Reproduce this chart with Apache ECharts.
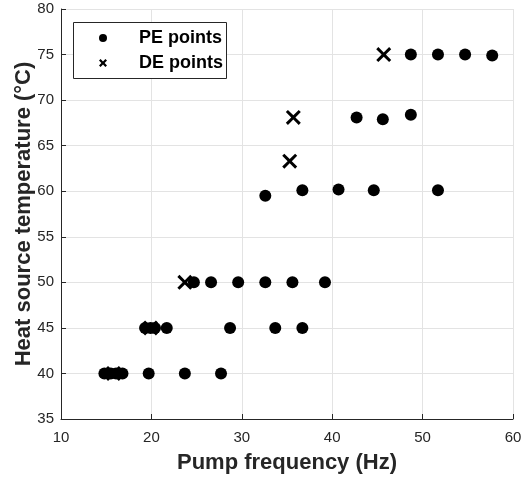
<!DOCTYPE html>
<html>
<head>
<meta charset="utf-8">
<script src="https://cdn.jsdelivr.net/npm/echarts@6/dist/echarts.min.js"></script>
<style>
html,body{margin:0;padding:0;background:#fff;}
#chart{width:531px;height:481px;}
</style>
</head>
<body>
<div id="chart"></div>
<script>
// Data
var peX = [14.8, 15.5, 16.1, 16.8, 19.7, 23.7, 27.7,
           19.3, 19.9, 20.4, 21.7, 28.7, 33.7, 36.7,
           24.7, 26.6, 29.6, 32.6, 35.6, 39.2,
           32.6, 36.7, 40.7, 44.6, 51.7,
           42.7, 45.6, 48.7,
           48.7, 51.7, 54.7, 57.7];
var peY = [40, 40, 40, 40, 40, 40, 40,
           45, 45, 45, 45, 45, 45, 45,
           50, 50, 50, 50, 50, 50,
           59.5, 60.1, 60.2, 60.1, 60.1,
           68.1, 67.9, 68.4,
           75.0, 75.0, 75.0, 74.9];
var deX = [15.8, 19.9, 23.7, 35.3, 35.7, 45.7];
var deY = [40, 45, 50, 63.3, 68.1, 75];
var seriesNames = ['PE points', 'DE points'];
var xName = 'Pump frequency (Hz)';
var yName = 'Heat source temperature (\u00B0C)';

function pairs(xs, ys){ return xs.map(function(x,i){ return [x, ys[i]]; }); }

var xPath = 'path://M0,1.4L1.4,0L5,3.6L8.6,0L10,1.4L6.4,5L10,8.6L8.6,10L5,6.4L1.4,10L0,8.6L3.6,5Z';
var xPathBold = 'path://M0,2L2,0L5,3L8,0L10,2L7,5L10,8L8,10L5,7L2,10L0,8L3,5Z';
var font = '"Liberation Sans", Arial, Helvetica, sans-serif';
var axisCol = '#262626';

var chart = echarts.init(document.getElementById('chart'));
chart.setOption({
  animation: false,
  textStyle: {fontFamily: font},
  grid: {left: 61, right: 18, top: 9, bottom: 62, containLabel: false, outerBoundsMode: 'none'},
  xAxis: {
    type: 'value', min: 10, max: 60, interval: 10,
    name: xName, nameLocation: 'middle', nameGap: 33, nameMoveOverlap: false,
    nameTextStyle: {fontSize: 22, fontWeight: 'bold', color: axisCol, fontFamily: font},
    axisLine: {show: true, lineStyle: {color: axisCol, width: 1}},
    axisTick: {show: true, inside: true, length: 5, lineStyle: {color: axisCol}},
    axisLabel: {fontSize: 15, color: axisCol, margin: 11, fontFamily: font},
    splitLine: {show: true, lineStyle: {color: '#e3e3e3', width: 1}}
  },
  yAxis: {
    type: 'value', min: 35, max: 80, interval: 5,
    name: yName, nameLocation: 'middle', nameGap: 26, nameMoveOverlap: false,
    nameTextStyle: {fontSize: 22, fontWeight: 'bold', color: axisCol, fontFamily: font},
    axisLine: {show: true, lineStyle: {color: axisCol, width: 1}},
    axisTick: {show: true, inside: true, length: 5, lineStyle: {color: axisCol}},
    axisLabel: {fontSize: 15, color: axisCol, margin: 7, fontFamily: font},
    splitLine: {show: true, lineStyle: {color: '#e3e3e3', width: 1}}
  },
  graphic: [{
    type: 'rect', left: 73, top: 22, z: 10,
    shape: {width: 153, height: 56},
    style: {fill: '#fff', stroke: '#262626', lineWidth: 1}
  }],
  legend: {
    orient: 'vertical', left: 99, top: 28, padding: 0, z: 20,
    itemWidth: 8, itemHeight: 8, itemGap: 5,
    textStyle: {fontSize: 18, fontWeight: 'bold', color: '#000', lineHeight: 20, padding: [0,0,0,27], fontFamily: font},
    data: [
      {name: seriesNames[0], icon: 'circle'},
      {name: seriesNames[1], icon: xPathBold}
    ]
  },
  series: [
    {name: seriesNames[0], type: 'scatter', data: pairs(peX, peY),
     symbol: 'circle', symbolSize: 12, itemStyle: {color: '#000', opacity: 1}},
    {name: seriesNames[1], type: 'scatter', data: pairs(deX, deY),
     symbol: xPath, symbolSize: 15, itemStyle: {color: '#000', opacity: 1}}
  ]
});
</script>
</body>
</html>
